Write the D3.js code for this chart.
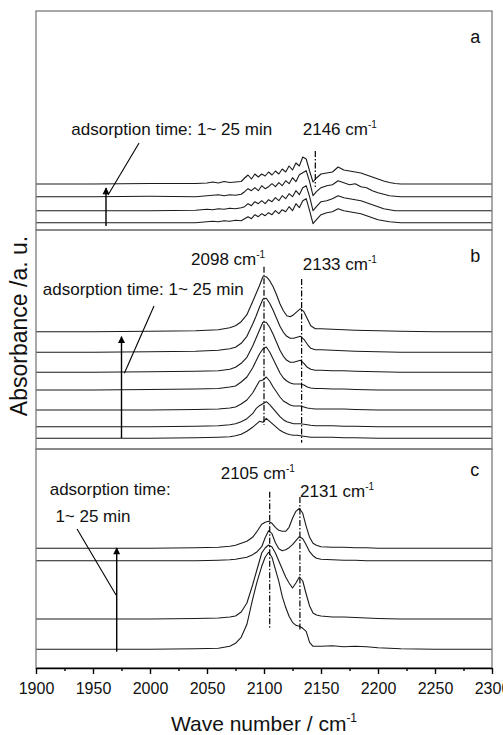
<!DOCTYPE html>
<html>
<head>
<meta charset="utf-8">
<script src="https://cdn.jsdelivr.net/npm/d3@7"></script>
<style>
  body { margin: 0; background: #fff; }
  text { font-family: "Liberation Sans", Arial, sans-serif; fill: #111; }
</style>
</head>
<body>
<div id="chart"></div>
<script>
// x axis
var xTicks = [1900, 1950, 2000, 2050, 2100, 2150, 2200, 2250, 2300];

// panel a: 4 spectra, 1 min (bottom) -> 25 min (top)
var wnA = [1900,1950,2000,2040,2050,2055,2060,2065,2070,2075,2080,2083,2086,2089,2092,2095,2098,2101,2104,2107,2110,2113,2116,2119,2122,2125,2128,2131,2134,2137,2140,2143,2146,2150,2155,2160,2165,2170,2175,2180,2185,2190,2195,2200,2205,2210,2215,2220,2250,2300];
var specA = [
  [0,0,0,0,1,1.5,1,2,1.5,2.5,2, 4,6,4,8,6,9,7,10,8,12,9,13,11,16,12,19,15,22,24,12,-1,3, 8,10,11,14,12,11,10,9,7,5,3,2,1,0.5,0,0,0],
  [0,0,0,0.5,1.5,1,2,1.5,2.5,2,3, 4,7,5,9,7,10,7,11,9,13,10,15,12,17,14,20,16,23,25,14,0,4, 9,10,12,15,13,12,11,10,8,6,4,2,1,0,0,0,0],
  [0,0,0.5,0,1,1.5,2,1,2,1.5,2.5, 5,8,6,9,6,11,8,10,13,10,14,11,16,13,19,15,22,24,26,15,1,5, 9,11,12,16,14,12,13,10,9,6,4,2.5,1,0.5,0,0,0],
  [0,0,0.5,0.5,1,2,1,2.5,1.5,2,2.5, 6,9,5,10,7,10,8,12,9,13,10,15,12,18,14,21,18,27,25,13,2,6, 10,11,12,17,14,13,12,11,9,7,5,3,1.5,0.5,0,0,0]
];
var offsetA = [7.3, 19.3, 33.3, 46];

// panel b: 7 spectra
var wnB = [1900,1950,2000,2040,2060,2070,2075,2080,2085,2090,2093,2096,2099,2102,2105,2108,2111,2114,2117,2120,2123,2126,2129,2132,2135,2138,2141,2145,2150,2160,2170,2180,2200,2220,2250,2300];
var specB = [
  [0,0,0,0.5,1,1.5,2.5,4,7,11,14,17,16,20,17,14,11,8,6,4.5,3.5,3,3,2.5,2,1.5,1,1,1,1,0.5,0.5,0,0,0,0],
  [0,0,0,0.5,1,2,3,5,8,13,18,21,23,25,22,18,14,10,7,5,4,3,3,3,2.5,2,1.5,1,1,1,0.5,0.5,0,0,0,0],
  [0,0,0,0.5,1,2,3,6,10,17,23,29,30,33,29,23,18,13,9,7,5,4,4,4,3,2,1.5,1,1,1,1,0.5,0,0,0,0],
  [0,0,0.5,1,1.5,3,4,8,13,22,29,36,41,43,38,31,24,17,12,9,7,6,6,6,5,3,2,1.5,1.5,1,1,0.5,0,0,0,0],
  [0,0,0.5,1,1.5,3,5,9,15,26,34,42,50,50,45,38,30,22,16,12,10,10,11,12,9,5,3,2,2,1.5,1.5,1,0.5,0,0,0],
  [0,0,0.5,1,2,3.5,5,9,16,28,36,45,53,54,49,42,34,26,20,16,14,14,15,16,13,8,4,2.5,2.5,2,1.5,1,0.5,0,0,0],
  [0,0,0.5,1,2,4,6,10,17,30,38,46,55,55,51,45,37,28,21,16,15,17,20,23,20,13,6,3,3,2.5,2,1.5,1,0.5,0,0]
];
var offsetB = [10.7, 22.3, 39, 59, 76.7, 96.7, 117.3];

// panel c: 4 spectra
var wnC = [1900,1950,2000,2040,2060,2070,2075,2080,2085,2090,2094,2098,2101,2104,2107,2110,2113,2116,2119,2122,2125,2128,2131,2134,2137,2140,2143,2146,2150,2160,2170,2180,2190,2200,2220,2250,2300];
var specC = [
  [0,0,0,0.5,1,3,6,12,25,50,68,83,92,97,92,80,68,53,42,33,27,24,23,21,18,7,3,3,3,3.5,2.5,3,2.5,1.5,0.5,0,0],
  [0,0,0,0.5,1,2,3,7,16,34,50,66,71,74,72,66,58,50,42,36,31,36,42,38,25,13,6,4,3,2,2,1.5,1,0.5,0,0,0],
  [0,0,0,0,0.5,1,1.5,2.5,3.5,6,9,14,23,30,27,18,12,10,11,13,16,20,24,22,16,9,5,2.5,1.5,1,0.5,0.5,0,0,0,0,0],
  [0,0,0,0.5,1,2,3,5,7,11,17,24,26,27,25,21,18,17,17,21,30,37,40,35,22,11,5,3,1.5,1,1,0.5,0.5,0,0,0,0]
];
var offsetC = [18.7, 49, 107.3, 119.7];

// peak marker lines [wavenumber, top, bottom] in panel units
var marksA = [[2145, 79, 43]];
var marksB = [[2100, 182.3, 24], [2133, 170, 6.3]];
var marksC = [[2105, 176.3, 39], [2131.5, 171, 38]];

// labels [text, superscript, wavenumber, height]
var labelsA = [["adsorption time: 1~ 25 min", "", 1931, 95], ["2146 cm", "-1", 2134, 95]];
var labelsB = [["2098 cm", "-1", 2036, 184], ["2133 cm", "-1", 2134, 179], ["adsorption time: 1~ 25 min", "", 1906, 154]];
var labelsC = [["2105 cm", "-1", 2062, 188.7], ["2131 cm", "-1", 2131.6, 171.3], ["adsorption time:", "", 1912, 173], ["1~ 25 min", "", 1917, 146.3]];

// arrow [wn, from, to], leader [wn1, y1, wn2, y2]
var arrows = [[1961.4, 4, 42], [1975, 11, 112.3], [1970.8, 16.3, 120]];
var leaders = [[1963.2, 35, 1990.4, 87], [1977.5, 75.7, 2003.5, 143], [1970.2, 73, 1936, 139]];
var letters = ["a", "b", "c"];

var W = 503, H = 735;
var plotL = 36, plotR = 492, plotT = 11, plotB = 668;
var panelH = (plotB - plotT) / 3;

var svg = d3.select("#chart").append("svg")
  .attr("width", W).attr("height", H);

svg.append("defs").append("marker")
  .attr("id", "head")
  .attr("viewBox", "0 0 10 10")
  .attr("refX", 9).attr("refY", 5)
  .attr("markerWidth", 11).attr("markerHeight", 7)
  .attr("markerUnits", "userSpaceOnUse")
  .attr("orient", "auto")
  .append("path").attr("d", "M0,0 L10,5 L0,10 Z").attr("fill", "#000");

var xScale = d3.scaleLinear().domain([1900, 2300]).range([plotL, plotR]);

var panels = [
  { wn: wnA, spec: specA, off: offsetA, marks: marksA, labels: labelsA },
  { wn: wnB, spec: specB, off: offsetB, marks: marksB, labels: labelsB },
  { wn: wnC, spec: specC, off: offsetC, marks: marksC, labels: labelsC }
];

panels.forEach(function(p, i) {
  var y0 = plotT + panelH * i;
  var yScale = d3.scaleLinear().domain([0, panelH]).range([y0 + panelH, y0]);

  var g = svg.append("g");

  p.spec.forEach(function(s, k) {
    var line = d3.line()
      .x(function(d, j) { return xScale(p.wn[j]); })
      .y(function(d) { return yScale(d + p.off[k]); });
    g.append("path")
      .datum(s)
      .attr("d", line)
      .attr("fill", "none")
      .attr("stroke", "#1a1a1a")
      .attr("stroke-width", 1.1)
      .attr("stroke-linejoin", "round");
  });

  p.marks.forEach(function(m) {
    g.append("line")
      .attr("x1", xScale(m[0])).attr("x2", xScale(m[0]))
      .attr("y1", yScale(m[1])).attr("y2", yScale(m[2]))
      .attr("stroke", "#000")
      .attr("stroke-width", 1.2)
      .attr("stroke-dasharray", "6,2,1.5,2");
  });

  p.labels.forEach(function(l) {
    var t = g.append("text")
      .attr("x", xScale(l[2]))
      .attr("y", yScale(l[3]))
      .style("font-size", "17px")
      .text(l[0]);
    if (l[1]) {
      t.append("tspan")
        .attr("dy", -7)
        .style("font-size", "10px")
        .text(l[1]);
    }
  });

  g.append("text")
    .attr("x", xScale(2281))
    .attr("y", y0 + [32, 31.5, 27][i])
    .style("font-size", "18px")
    .text(letters[i]);

  var a = arrows[i];
  g.append("line")
    .attr("x1", xScale(a[0])).attr("x2", xScale(a[0]))
    .attr("y1", yScale(a[1])).attr("y2", yScale(a[2]))
    .attr("stroke", "#000").attr("stroke-width", 1.4)
    .attr("marker-end", "url(#head)");

  var ld = leaders[i];
  g.append("line")
    .attr("x1", xScale(ld[0])).attr("y1", yScale(ld[1]))
    .attr("x2", xScale(ld[2])).attr("y2", yScale(ld[3]))
    .attr("stroke", "#000").attr("stroke-width", 1.1);

  // panel frame
  g.append("rect")
    .attr("x", plotL).attr("y", y0)
    .attr("width", plotR - plotL).attr("height", panelH)
    .attr("fill", "none")
    .attr("stroke", "#7a7a7a")
    .attr("stroke-width", 1.3);
});

// x axis with minor ticks
svg.append("g")
  .attr("transform", "translate(0," + plotB + ")")
  .call(d3.axisBottom(xScale).tickValues(d3.range(1925, 2300, 50)).tickSize(3).tickFormat(""))
  .call(function(g) { g.select(".domain").remove(); })
  .selectAll("line").attr("stroke-width", 1.4);

var xAxis = svg.append("g")
  .attr("transform", "translate(0," + plotB + ")")
  .call(d3.axisBottom(xScale).tickValues(xTicks).tickSize(6).tickSizeOuter(0).tickFormat(d3.format("d")));
xAxis.select(".domain").attr("stroke-width", 1.5);
xAxis.selectAll(".tick line").attr("stroke-width", 1.4);
xAxis.selectAll(".tick text")
  .attr("y", 15)
  .style("font-size", "16px")
  .style("font-family", "'Liberation Sans', Arial, sans-serif")
  .attr("fill", "#111");

// axis titles
var xt = svg.append("text")
  .attr("x", (plotL + plotR) / 2)
  .attr("y", 731)
  .attr("text-anchor", "middle")
  .style("font-size", "21px")
  .text("Wave number / cm");
xt.append("tspan").attr("dy", -9).style("font-size", "12px").text("-1");

svg.append("text")
  .attr("transform", "translate(27," + 326 + ") rotate(-90)")
  .attr("text-anchor", "middle")
  .style("font-size", "23px")
  .text("Absorbance /a. u.");
</script>
</body>
</html>
